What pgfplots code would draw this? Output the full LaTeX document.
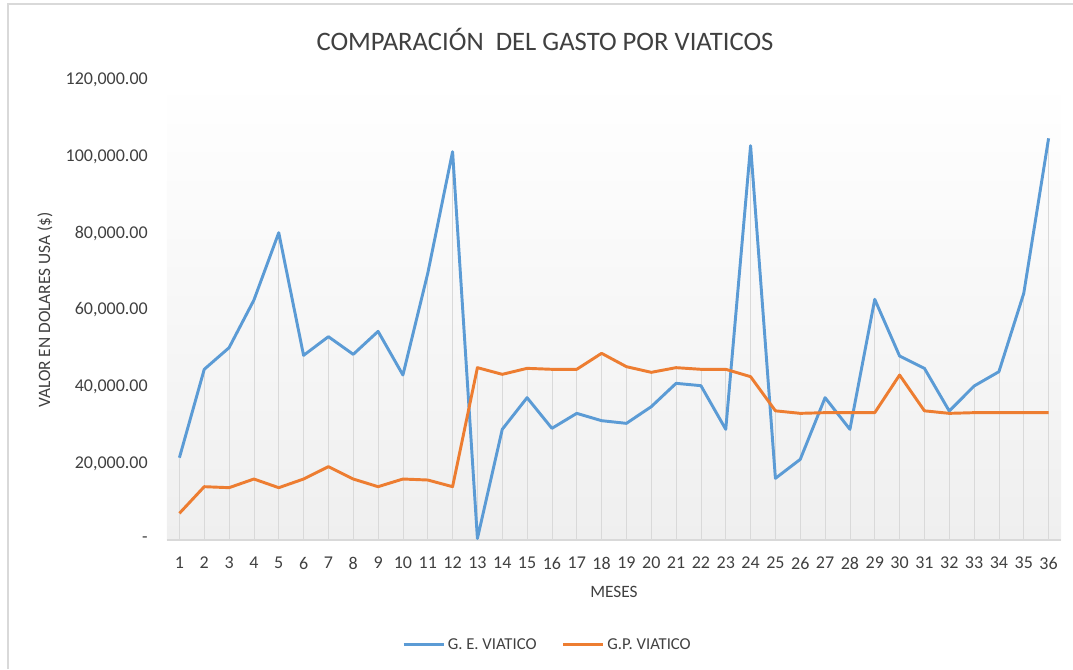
\documentclass[border=0pt]{standalone}
\usepackage{fontspec}
\setmainfont{Carlito}
\usepackage{pgfplots}
\pgfplotsset{compat=1.18}
\definecolor{serA}{HTML}{5B9BD5}
\definecolor{serB}{HTML}{ED7D31}
\definecolor{txt}{HTML}{404040}
\definecolor{grd}{HTML}{D9D9D9}
\begin{document}
\begin{tikzpicture}
% canvas (1 px = 0.75pt), axis box lower-left at px (167,540)
\path[use as bounding box] (-125.25pt,-96.75pt) rectangle (679.5pt,405pt);
\draw[grd, line width=0.8pt] (-119.25pt,-96.75pt) -- (-119.25pt,402pt) -- (679.5pt,402pt);
\begin{axis}[
  at={(0,0)}, anchor=south west,
  scale only axis,
  width=670.5pt, height=345pt,
  xmin=0.5, xmax=36.5,
  ymin=0, ymax=120000,
  scaled y ticks=false,
  /pgf/number format/assume math mode=true,
  axis background/.style={shade, top color=white, bottom color={rgb,255:red,239;green,239;blue,239}},
  axis lines*=left,
  x axis line style={draw=grd, line width=0.8pt, -},
  y axis line style={draw=none},
  major tick length=0pt,
  xtick={1,...,36},
  xticklabels={1,2,3,4,5,6,7,8,9,10,11,12,13,14,15,16,17,18,19,20,21,22,23,24,25,26,27,28,29,30,31,32,33,34,35,36},
  ytick={0,20000,40000,60000,80000,100000,120000},
  yticklabels={{-\hspace{9pt}},{20,000.00},{40,000.00},{60,000.00},{80,000.00},{100,000.00},{120,000.00}},
  yticklabel style={font=\fontsize{13.5}{15}\selectfont, text=txt, anchor=east, inner sep=0pt, xshift=-14.25pt},
  xticklabel style={font=\fontsize{13.5}{15}\selectfont, text=txt, anchor=north, inner sep=0pt, yshift=-12.75pt},
  xlabel={MESES},
  ylabel={VALOR EN DOLARES USA (\$)},
  xlabel style={font=\fontsize{13}{15}\selectfont, text=txt, at={(axis description cs:0.5,-0.113)}, anchor=center},
  ylabel style={font=\fontsize{13}{15}\selectfont, text=txt, at={(axis description cs:-0.1365,0.5)}, anchor=center},
  title={COMPARACIÓN\ \ DEL GASTO POR VIATICOS},
  title style={font=\fontsize{20}{24}\selectfont, text=txt, at={(axis description cs:0.4228,1.0478)}, anchor=base},
  legend columns=2,
  legend style={at={(axis description cs:0.426,-0.228)}, anchor=center, draw=none, fill=none,
    font=\fontsize{12.5}{15}\selectfont, text=txt,
    /tikz/every even column/.append style={column sep=17pt}},
  legend image code/.code={\draw[#1] (0pt,0pt) -- (30pt,0pt);},
]
\addplot[ycomb, grd, line width=0.6pt, forget plot] coordinates {
(1,21470)(2,44530)(3,50170)(4,62600)(5,80170)(6,48170)(7,53040)(8,48430)(9,54430)(10,43040)(11,69570)(12,101300)
(13,400)(14,28870)(15,37130)(16,29130)(17,33040)(18,31130)(19,30430)(20,34780)(21,40870)(22,40260)(23,28870)(24,102870)
(25,16090)(26,21040)(27,37130)(28,28870)(29,62780)(30,48000)(31,44780)(32,33650)(33,40170)(34,43910)(35,64350)(36,104780)};
\addplot[ycomb, grd, line width=0.6pt, forget plot] coordinates {
(1,6960)(2,13910)(3,13650)(4,15910)(5,13650)(6,15910)(7,19130)(8,15910)(9,13910)(10,15910)(11,15650)(12,13910)
(13,44960)(14,43220)(15,44780)(16,44530)(17,44530)(18,48700)(19,45220)(20,43740)(21,44960)(22,44530)(23,44530)(24,42610)
(25,33700)(26,33040)(27,33220)(28,33220)(29,33220)(30,43040)(31,33700)(32,33040)(33,33220)(34,33220)(35,33220)(36,33220)};
\addplot[serA, line width=2.2pt, line join=round] coordinates {
(1,21470)(2,44530)(3,50170)(4,62600)(5,80170)(6,48170)(7,53040)(8,48430)(9,54430)(10,43040)(11,69570)(12,101300)
(13,400)(14,28870)(15,37130)(16,29130)(17,33040)(18,31130)(19,30430)(20,34780)(21,40870)(22,40260)(23,28870)(24,102870)
(25,16090)(26,21040)(27,37130)(28,28870)(29,62780)(30,48000)(31,44780)(32,33650)(33,40170)(34,43910)(35,64350)(36,104780)};
\addlegendentry{G. E. VIATICO}
\addplot[serB, line width=2.2pt, line join=round] coordinates {
(1,6960)(2,13910)(3,13650)(4,15910)(5,13650)(6,15910)(7,19130)(8,15910)(9,13910)(10,15910)(11,15650)(12,13910)
(13,44960)(14,43220)(15,44780)(16,44530)(17,44530)(18,48700)(19,45220)(20,43740)(21,44960)(22,44530)(23,44530)(24,42610)
(25,33700)(26,33040)(27,33220)(28,33220)(29,33220)(30,43040)(31,33700)(32,33040)(33,33220)(34,33220)(35,33220)(36,33220)};
\addlegendentry{G.P. VIATICO}
\end{axis}
\end{tikzpicture}
\end{document}
